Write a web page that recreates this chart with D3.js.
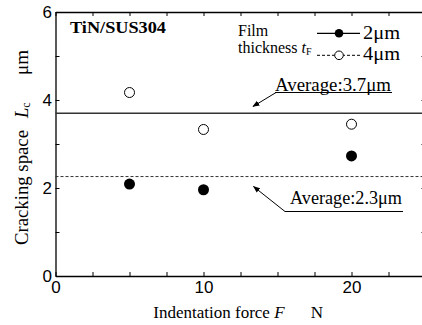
<!DOCTYPE html>
<html><head><meta charset="utf-8">
<script src="https://cdn.jsdelivr.net/npm/d3@7"></script>
<style>
html,body{margin:0;padding:0;background:#fff;}
svg{display:block;}
</style></head>
<body>
<script>
// Data
const forces = [5, 10, 20];
const series2um = [2.09, 1.96, 2.73];
const series4um = [4.17, 3.33, 3.45];
const avg4um = 3.7;
const avg2um = 2.26;
const xTicks = [0, 2.5, 5, 7.5, 10, 12.5, 15, 17.5, 20, 22.5, 25];
const xLabels = [0, 10, 20];
const yTicks = [0, 1, 2, 3, 4, 5, 6];
const yLabels = [0, 2, 4, 6];

const W = 422, H = 325;
const svg = d3.select("body").append("svg").attr("width", W).attr("height", H);
const x = d3.scaleLinear().domain([0, 25]).range([55.5, 425.5]);
const y = d3.scaleLinear().domain([0, 6]).range([276, 12]);
const serif = "'Liberation Serif','Times New Roman',serif";
const sans = "'Liberation Sans',Arial,sans-serif";

// defs arrow
svg.append("defs").append("marker").attr("id", "arr")
  .attr("viewBox", "0 0 10 10").attr("refX", 9).attr("refY", 5)
  .attr("markerWidth", 7).attr("markerHeight", 7).attr("orient", "auto")
  .append("path").attr("d", "M0,1 L10,5 L0,9 Z").attr("fill", "#000");

// axes
function styleAxis(g) {
  g.selectAll("path.domain").attr("stroke", "#000").attr("stroke-width", 1.3);
  g.selectAll(".tick line").attr("stroke", "#000").attr("stroke-width", 1);
}
const gx = svg.append("g").attr("transform", `translate(0,${y(0)})`)
  .call(d3.axisBottom(x).tickValues(xTicks).tickSize(-4).tickSizeOuter(0).tickPadding(5)
    .tickFormat(d => xLabels.includes(d) ? d : ""));
styleAxis(gx);
gx.selectAll("text").attr("font-family", sans).attr("font-size", 17).attr("fill", "#000");

const gy = svg.append("g").attr("transform", `translate(${x(0)},0)`)
  .call(d3.axisLeft(y).tickValues(yTicks).tickSize(-4).tickSizeOuter(0).tickPadding(3.5)
    .tickFormat(d => yLabels.includes(d) ? d : ""));
styleAxis(gy);
gy.selectAll("text").attr("font-family", sans).attr("font-size", 17).attr("fill", "#000");

const gt = svg.append("g").attr("transform", `translate(0,${y(6)})`)
  .call(d3.axisTop(x).tickValues(xTicks).tickSize(-4).tickSizeOuter(0).tickFormat(""));
styleAxis(gt);
const gr = svg.append("g").attr("transform", `translate(${x(25)},0)`)
  .call(d3.axisRight(y).tickValues(yTicks).tickSize(-4).tickSizeOuter(0).tickFormat(""));
styleAxis(gr);

// average lines
svg.append("line").attr("x1", x(0)).attr("x2", x(25)).attr("y1", y(avg4um)).attr("y2", y(avg4um))
  .attr("stroke", "#333").attr("stroke-width", 1.4);
svg.append("line").attr("x1", x(0)).attr("x2", x(25)).attr("y1", y(avg2um)).attr("y2", y(avg2um))
  .attr("stroke", "#333").attr("stroke-width", 1).attr("stroke-dasharray", "3,2");

// points
svg.selectAll("circle.s4").data(forces).enter().append("circle").attr("class", "s4")
  .attr("cx", d => x(d)).attr("cy", (d, i) => y(series4um[i])).attr("r", 5)
  .attr("fill", "#fff").attr("stroke", "#000").attr("stroke-width", 1);
svg.selectAll("circle.s2").data(forces).enter().append("circle").attr("class", "s2")
  .attr("cx", d => x(d)).attr("cy", (d, i) => y(series2um[i])).attr("r", 5.5)
  .attr("fill", "#000");

// Annotation: Average 3.7
svg.append("text").attr("x", 275).attr("y", 90.5).attr("font-family", serif).attr("font-size", 18)
  .attr("textLength", 116).attr("lengthAdjust", "spacingAndGlyphs").text("Average:3.7μm");
svg.append("line").attr("x1", 275).attr("x2", 392).attr("y1", 92.5).attr("y2", 92.5)
  .attr("stroke", "#000").attr("stroke-width", 1);
svg.append("line").attr("x1", 276).attr("y1", 92.5).attr("x2", 253).attr("y2", 106.5)
  .attr("stroke", "#000").attr("stroke-width", 1).attr("marker-end", "url(#arr)");

// Annotation: Average 2.3
svg.append("text").attr("x", 290).attr("y", 203.5).attr("font-family", serif).attr("font-size", 18)
  .attr("textLength", 112).attr("lengthAdjust", "spacingAndGlyphs").text("Average:2.3μm");
svg.append("line").attr("x1", 285).attr("x2", 403).attr("y1", 211.5).attr("y2", 211.5)
  .attr("stroke", "#000").attr("stroke-width", 1);
svg.append("line").attr("x1", 285).attr("y1", 211.5).attr("x2", 253.5).attr("y2", 186.5)
  .attr("stroke", "#000").attr("stroke-width", 1).attr("marker-end", "url(#arr)");

// Title label
svg.append("text").attr("x", 70).attr("y", 33).attr("font-family", serif).attr("font-size", 17)
  .attr("font-weight", "bold").attr("textLength", 96).attr("lengthAdjust", "spacingAndGlyphs")
  .text("TiN/SUS304");

// Legend
svg.append("text").attr("x", 238).attr("y", 35.5).attr("font-family", serif).attr("font-size", 16).text("Film");
const th = svg.append("text").attr("x", 238).attr("y", 53).attr("font-family", serif).attr("font-size", 16);
th.append("tspan").text("thickness ");
th.append("tspan").attr("font-style", "italic").text("t");
th.append("tspan").attr("font-size", 10).attr("dy", 2).text("F");

svg.append("line").attr("x1", 317).attr("x2", 360).attr("y1", 33.3).attr("y2", 33.3)
  .attr("stroke", "#000").attr("stroke-width", 1.2);
svg.append("circle").attr("cx", 339).attr("cy", 33.3).attr("r", 4.3).attr("fill", "#000");
svg.append("line").attr("x1", 317).attr("x2", 360).attr("y1", 55.3).attr("y2", 55.3)
  .attr("stroke", "#000").attr("stroke-width", 1).attr("stroke-dasharray", "3,2");
svg.append("circle").attr("cx", 339).attr("cy", 55.3).attr("r", 4.3).attr("fill", "#fff")
  .attr("stroke", "#000").attr("stroke-width", 1);
svg.append("text").attr("x", 363).attr("y", 38.5).attr("font-family", serif).attr("font-size", 18)
  .attr("textLength", 37).attr("lengthAdjust", "spacingAndGlyphs").text("2μm");
svg.append("text").attr("x", 363).attr("y", 60).attr("font-family", serif).attr("font-size", 18)
  .attr("textLength", 37).attr("lengthAdjust", "spacingAndGlyphs").text("4μm");

// X axis title
const xt = svg.append("text").attr("x", 153.3).attr("y", 318).attr("font-family", serif).attr("font-size", 17);
xt.append("tspan").text("Indentation force ");
xt.append("tspan").attr("font-style", "italic").text("F");
xt.append("tspan").attr("x", 310.7).text("N");

// Y axis title (rotated)
const yt = svg.append("g").attr("transform", "translate(28,0) rotate(-90)");
yt.append("text").attr("x", -245).attr("y", 0).attr("font-family", serif).attr("font-size", 18.5)
  .attr("textLength", 115).attr("lengthAdjust", "spacingAndGlyphs").text("Cracking space");
const lc = yt.append("text").attr("x", -118).attr("y", 0).attr("font-family", serif).attr("font-size", 18.5);
lc.append("tspan").attr("font-style", "italic").text("L");
lc.append("tspan").attr("font-size", 12).attr("dy", 2).text("c");
yt.append("text").attr("x", -75).attr("y", 0).attr("font-family", serif).attr("font-size", 18.5)
  .attr("textLength", 25).attr("lengthAdjust", "spacingAndGlyphs").text("μm");
</script>
</body></html>
